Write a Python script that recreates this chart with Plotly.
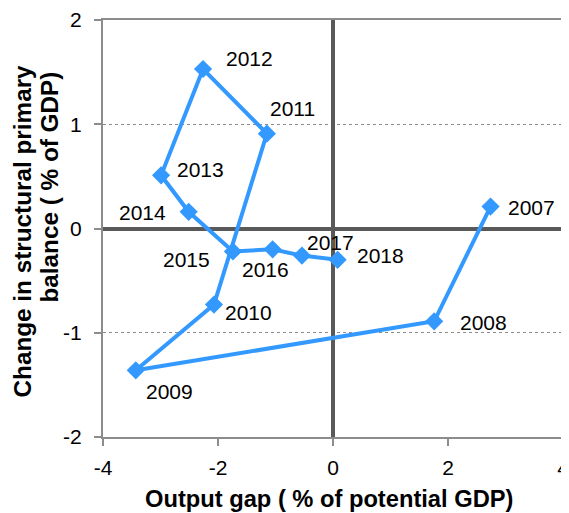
import plotly.graph_objects as go

# Output gap vs change in structural primary balance, 2007-2018
years = ["2007", "2008", "2009", "2010", "2011", "2012",
         "2013", "2014", "2015", "2016", "2017", "2018"]
output_gap = [2.74, 1.76, -3.43, -2.07, -1.15, -2.26,
              -2.99, -2.51, -1.74, -1.05, -0.54, 0.08]
spb_change = [0.21, -0.89, -1.36, -0.73, 0.91, 1.53,
              0.51, 0.16, -0.22, -0.20, -0.26, -0.30]
x_ticks = [-4, -2, 0, 2, 4]
y_ticks = [-2, -1, 0, 1, 2]

# label offsets in pixels (dx right, dy up)
label_shift = {
    "2007": (41, -1), "2008": (49, -1), "2009": (34, -21), "2010": (35, -8),
    "2011": (26, 25), "2012": (46, 11), "2013": (39, 6), "2014": (-46, -1),
    "2015": (-46, -8), "2016": (-7, -20), "2017": (29, 13), "2018": (43, 4),
}

BLUE = "#3399ff"
FONT = "Liberation Sans, Arial, sans-serif"
BLACK = "#000000"

fig = go.Figure()
fig.add_trace(go.Scatter(
    x=output_gap, y=spb_change, mode="lines+markers",
    line=dict(color=BLUE, width=4),
    marker=dict(symbol="diamond", size=14, color=BLUE),
    showlegend=False, hoverinfo="skip",
))

for yr, gx, gy in zip(years, output_gap, spb_change):
    dx, dy = label_shift[yr]
    fig.add_annotation(x=gx, y=gy, text=yr, showarrow=False,
                       xshift=dx, yshift=dy, xanchor="center", yanchor="middle",
                       font=dict(size=21, color=BLACK, family=FONT))

# axis titles placed by hand (the y title lines are not centred on each other)
fig.add_annotation(xref="paper", yref="paper", x=0.5, y=0, xshift=-4, yshift=-62,
                   text="<b>Output gap ( % of potential GDP)</b>", showarrow=False,
                   xanchor="center", yanchor="middle",
                   font=dict(size=23.7, color=BLACK, family=FONT))
ytitle_font = dict(size=24.3, color=BLACK, family=FONT)
fig.add_annotation(xref="paper", yref="paper", x=0, y=0.5, xshift=-81, yshift=-3,
                   text="<b>Change in structural primary</b>", showarrow=False,
                   textangle=-90, xanchor="center", yanchor="middle", font=ytitle_font)
fig.add_annotation(xref="paper", yref="paper", x=0, y=0.5, xshift=-54, yshift=41,
                   text="<b>balance ( % of GDP)</b>", showarrow=False,
                   textangle=-90, xanchor="center", yanchor="middle", font=ytitle_font)

axis_common = dict(
    showline=True, mirror=True, linecolor="#8c8c8c", linewidth=2,
    ticks="outside", ticklen=7, tickcolor="#8c8c8c", tickwidth=2,
    gridcolor="#8c8c8c", gridwidth=1, griddash="dot",
    zeroline=True, zerolinecolor="#595959", zerolinewidth=4,
    tickfont=dict(size=21, color=BLACK, family=FONT),
    ticklabeloverflow="allow", automargin=False,
)

# page body adds an 8px margin, so the figure is sized to fit inside it
fig.update_layout(
    width=561, height=505,
    paper_bgcolor="white", plot_bgcolor="white",
    margin=dict(l=95, r=6, t=12, b=76),
    xaxis=dict(range=[-4, 4], tickvals=x_ticks,
               ticktext=[str(v) for v in x_ticks],
               showgrid=False, ticklabelstandoff=4, **axis_common),
    yaxis=dict(range=[-2, 2], tickvals=y_ticks,
               ticktext=[str(v) for v in y_ticks],
               showgrid=True, ticklabelstandoff=8, **axis_common),
)

fig.write_html("out.html")
